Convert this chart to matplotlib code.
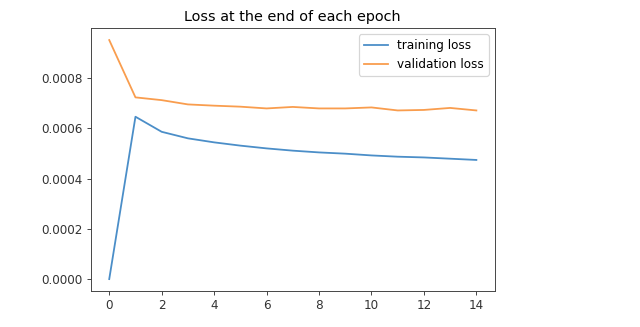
import numpy as np
import matplotlib
matplotlib.use("Agg")
import matplotlib.pyplot as plt

# epochs and losses
epochs = list(range(15))
train_loss = [0.0, 0.000646, 0.000586, 0.000560, 0.000544, 0.000531, 0.000520,
              0.000511, 0.000504, 0.000499, 0.000492, 0.000487, 0.000484,
              0.000479, 0.000474]
val_loss = [0.000951, 0.000723, 0.000712, 0.000695, 0.000690, 0.000686, 0.000679,
            0.000685, 0.000679, 0.000679, 0.000683, 0.000671, 0.000673,
            0.000681, 0.000671]

# the screenshot is a notebook figure scaled up by about 1.2
dpi = 86.4
fig = plt.figure(figsize=(640 / dpi, 327 / dpi), dpi=dpi)
ax = fig.add_axes([0.142, 0.110, 0.631, 0.804])

ax.plot(epochs, train_loss, color="#4b8ec8", label="training loss")
ax.plot(epochs, val_loss, color="#f99d4e", label="validation loss")
ax.set_title("Loss at the end of each epoch")
ax.legend()

for s in ax.spines.values():
    s.set_color("#444444")
ax.tick_params(colors="#444444", labelcolor="#333333")

fig.savefig("out.png", dpi=dpi)
